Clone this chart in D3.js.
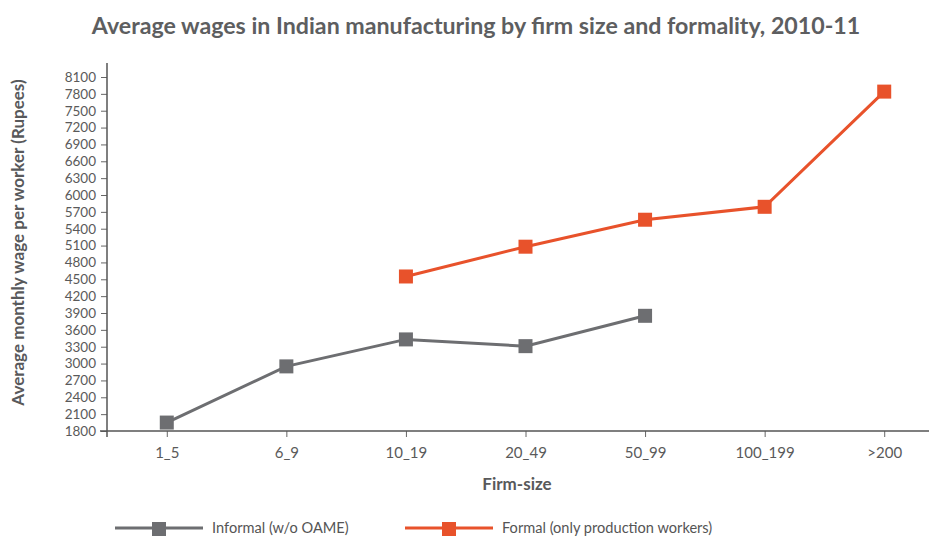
<!DOCTYPE html>
<html>
<head>
<meta charset="utf-8">
<script src="https://cdn.jsdelivr.net/npm/d3@7"></script>
<style>
  body { margin: 0; background: #fff; }
  svg { display: block; font-family: Lato, "Open Sans", sans-serif; }
</style>
</head>
<body>
<svg width="929" height="536"></svg>
<script>
// Firm-size categories on the x axis
const sizes = ['1_5', '6_9', '10_19', '20_49', '50_99', '100_199', '>200'];
// Average monthly wage per worker (Rupees)
const informal = [1950, 2950, 3430, 3310, 3850, null, null];
const formal = [null, null, 4550, 5080, 5560, 5790, 7840];
const yTicks = d3.range(1800, 8101, 300);

const seriesList = [
  {name: 'Informal (w/o OAME)', values: informal, color: '#6d6e71'},
  {name: 'Formal (only production workers)', values: formal, color: '#e8522b'}
];

const svg = d3.select('svg');
const left = 107;
const bottom = 431;

const x = d3.scalePoint()
  .domain(sizes)
  .range([left, 944])
  .padding(0.5);

const y = d3.scaleLinear()
  .domain([1800, 8100])
  .range([bottom, 77]);

// title
svg.append('text')
  .attr('x', 476)
  .attr('y', 34)
  .attr('text-anchor', 'middle')
  .attr('font-size', 23.2)
  .attr('font-weight', 700)
  .attr('fill', '#5d5e60')
  .text('Average wages in Indian manufacturing by firm size and formality, 2010-11');

// y axis
const yAxis = svg.append('g')
  .attr('transform', `translate(${left},0)`)
  .call(d3.axisLeft(y).tickValues(yTicks).tickFormat(d3.format('d'))
    .tickSize(6).tickPadding(5).tickSizeOuter(0));
yAxis.select('.domain').remove();
yAxis.append('line')
  .attr('x1', 0).attr('x2', 0)
  .attr('y1', 63).attr('y2', bottom + 6)
  .attr('stroke', '#555').attr('stroke-width', 1.5);
yAxis.selectAll('.tick line').attr('stroke', '#666');
yAxis.selectAll('.tick text')
  .attr('font-size', 13.5)
  .attr('fill', '#5a5a5a')
  .attr('font-family', 'Lato, sans-serif');

// x axis
const xAxis = svg.append('g')
  .attr('transform', `translate(0,${bottom})`)
  .call(d3.axisBottom(x).tickSize(6).tickPadding(10).tickSizeOuter(0));
xAxis.select('.domain').remove();
xAxis.append('line')
  .attr('x1', left - 7).attr('x2', 944)
  .attr('y1', 0).attr('y2', 0)
  .attr('stroke', '#555').attr('stroke-width', 1.5);
xAxis.selectAll('.tick line').attr('stroke', '#666');
xAxis.selectAll('.tick text')
  .attr('font-size', 15)
  .attr('fill', '#5a5a5a')
  .attr('font-family', 'Lato, sans-serif');

// axis titles
svg.append('text')
  .attr('transform', `translate(24,${(75 + 410) / 2}) rotate(-90)`)
  .attr('text-anchor', 'middle')
  .attr('font-size', 17)
  .attr('font-weight', 700)
  .attr('fill', '#58595b')
  .text('Average monthly wage per worker (Rupees)');

svg.append('text')
  .attr('x', 517)
  .attr('y', 490)
  .attr('text-anchor', 'middle')
  .attr('font-size', 17)
  .attr('font-weight', 700)
  .attr('fill', '#58595b')
  .text('Firm-size');

// lines and square markers
const line = d3.line()
  .defined(d => d.v != null)
  .x(d => x(d.k))
  .y(d => y(d.v));

const sq = 14;
seriesList.forEach(s => {
  const pts = sizes.map((k, i) => ({k, v: s.values[i]}));
  svg.append('path')
    .datum(pts)
    .attr('fill', 'none')
    .attr('stroke', s.color)
    .attr('stroke-width', 3)
    .attr('d', line);
  svg.selectAll(null)
    .data(pts.filter(d => d.v != null))
    .enter().append('rect')
      .attr('x', d => x(d.k) - sq / 2)
      .attr('y', d => y(d.v) - sq / 2)
      .attr('width', sq)
      .attr('height', sq)
      .attr('fill', s.color);
});

// legend
const legendX = [115, 405];
const legend = svg.selectAll('.legend')
  .data(seriesList)
  .enter().append('g')
    .attr('class', 'legend')
    .attr('transform', (d, i) => `translate(${legendX[i]},528)`);
legend.append('line')
  .attr('x1', 0).attr('x2', 88)
  .attr('stroke', d => d.color)
  .attr('stroke-width', 3);
legend.append('rect')
  .attr('x', 44 - sq / 2).attr('y', -sq / 2 + 1)
  .attr('width', sq).attr('height', sq)
  .attr('fill', d => d.color);
legend.append('text')
  .attr('x', 97)
  .attr('y', 5)
  .attr('font-size', 14.6)
  .attr('fill', '#555')
  .text(d => d.name);
</script>
</body>
</html>
